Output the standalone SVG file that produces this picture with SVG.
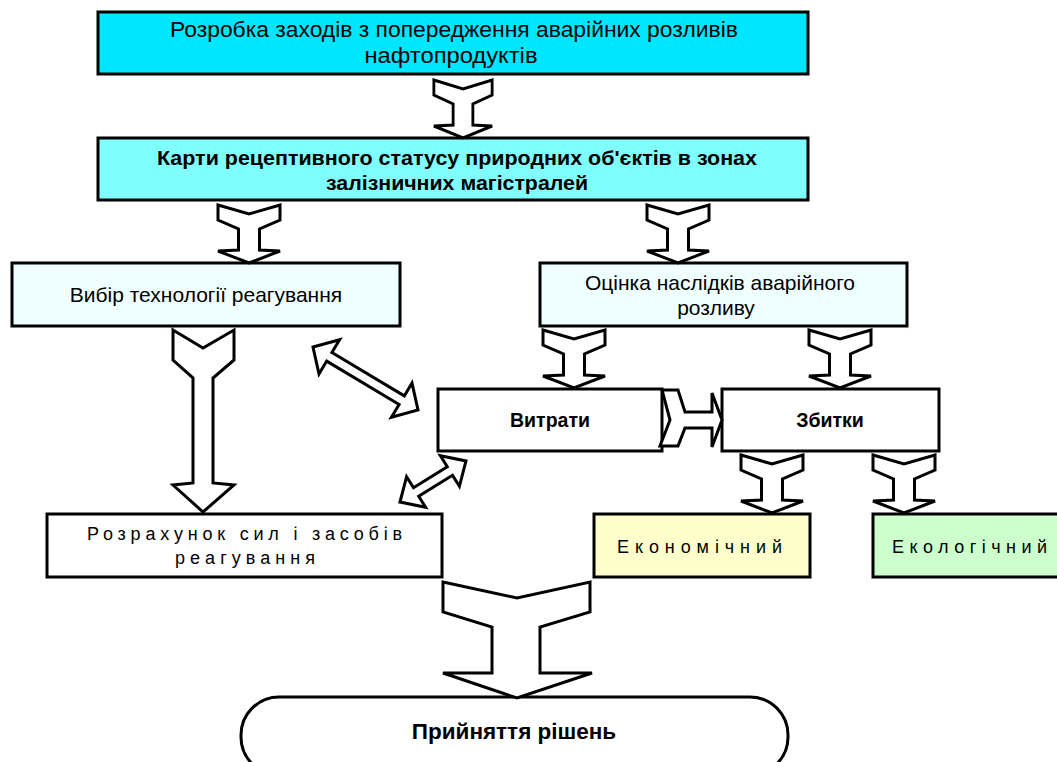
<svg xmlns="http://www.w3.org/2000/svg" xmlns:xlink="http://www.w3.org/1999/xlink" width="1057" height="762" viewBox="0 0 1057 762">
<style>
.box{stroke:#000;stroke-width:3}
.arr{fill:#fff;stroke:#000;stroke-width:3;stroke-linejoin:miter}
text{font-family:"Liberation Sans",Arial,sans-serif;fill:#000;text-anchor:middle}
.b{font-weight:bold}
</style>
<defs>
<path id="ta" d="M-31,0 L0,9 L31,0 L31,15 L10.5,24 L10.5,45 L31,46 L0,58 L-31,46 L-10.5,45 L-10.5,24 L-31,15 Z"/>
</defs>
<rect width="1057" height="762" fill="#fff"/>
<g id="n1">
<rect class="box" x="98" y="12" width="710" height="62" fill="#00E6FF"/>
<text x="454" y="37" font-size="22" textLength="568" lengthAdjust="spacingAndGlyphs">Розробка заходів з попередження аварійних розливів</text>
<text x="451" y="63" font-size="22" textLength="173" lengthAdjust="spacingAndGlyphs">нафтопродуктів</text>
</g>
<g id="n2">
<rect class="box" x="98" y="138" width="710" height="62" fill="#80FFFF"/>
<text class="b" x="457" y="165" font-size="21" textLength="600" lengthAdjust="spacingAndGlyphs">Карти рецептивного статусу природних об'єктів в зонах</text>
<text class="b" x="457" y="190" font-size="21" textLength="262" lengthAdjust="spacingAndGlyphs">залізничних магістралей</text>
</g>
<g id="n3">
<rect class="box" x="12" y="263" width="388" height="63" fill="#F0FFFF"/>
<text x="206" y="302" font-size="21">Вибір технології реагування</text>
</g>
<g id="n4">
<rect class="box" x="540" y="263" width="367" height="63" fill="#F0FFFF"/>
<text x="720" y="290" font-size="21">Оцінка наслідків аварійного</text>
<text x="716" y="315" font-size="21">розливу</text>
</g>
<g id="n5">
<rect class="box" x="438" y="389" width="224" height="62" fill="#fff"/>
<text class="b" x="550" y="427" font-size="19.5">Витрати</text>
</g>
<g id="n6">
<rect class="box" x="722" y="389" width="217" height="62" fill="#fff"/>
<text class="b" x="830" y="427" font-size="19.5">Збитки</text>
</g>
<g id="n7">
<rect class="box" x="47" y="514" width="395" height="63" fill="#fff"/>
<text x="244.5" y="540" font-size="18" textLength="315" lengthAdjust="spacing">Розрахунок сил і засобів</text>
<text x="245" y="564" font-size="18" textLength="140" lengthAdjust="spacing">реагування</text>
</g>
<g id="n8">
<rect class="box" x="594" y="514" width="216" height="63" fill="#FFFFCC"/>
<text x="699.5" y="553" font-size="18" textLength="165" lengthAdjust="spacing">Економічний</text>
</g>
<g id="n9">
<rect class="box" x="873" y="514" width="190" height="63" fill="#CCFFCC"/>
<text x="969.5" y="553" font-size="18" textLength="155" lengthAdjust="spacing">Екологічний</text>
</g>
<g id="n10">
<rect class="box" x="241" y="697" width="547" height="78" rx="38" ry="38" fill="#fff"/>
<text class="b" x="514" y="739" font-size="22.5">Прийняття рішень</text>
</g>
<g id="connectors">
<use xlink:href="#ta" href="#ta" class="arr" transform="translate(463,80) scale(0.94,1)"/>
<use xlink:href="#ta" href="#ta" class="arr" transform="translate(249,205)"/>
<use xlink:href="#ta" href="#ta" class="arr" transform="translate(678,205)"/>
<use xlink:href="#ta" href="#ta" class="arr" transform="translate(574,330)"/>
<use xlink:href="#ta" href="#ta" class="arr" transform="translate(840,330)"/>
<use xlink:href="#ta" href="#ta" class="arr" transform="translate(772,455)"/>
<use xlink:href="#ta" href="#ta" class="arr" transform="translate(904,455)"/>
<path class="arr" d="M173,330 L203,348 L234,330 L234,360 L213,378 L213,483 L234,485 L203,512 L173,485 L193,483 L193,378 L173,360 Z"/>
<path class="arr" d="M443,582 L517,598 L590,582 L590,612 L540,627 L540,673 L592,673 L517,698 L443,673 L492,673 L492,627 L443,612 Z"/>
<path class="arr" d="M662,390 L678,390 L685,412 L712,412 L712,393 L722,420 L712,447 L712,428 L685,428 L678,446 L660,446 L670,420 Z"/>
<path class="arr" d="M313,347 L339.6,339.7 L331.9,352.5 L404.3,395.9 L412,383.1 L418,410 L391.4,417.3 L399.1,404.5 L326.7,361.1 L319,374 Z"/>
<path class="arr" d="M400,502 L406.6,476.7 L413.5,487.8 L447.3,466.8 L440.4,455.7 L466,461 L459.4,486.3 L452.5,475.2 L418.7,496.2 L425.6,507.3 Z"/>
</g>
</svg>
